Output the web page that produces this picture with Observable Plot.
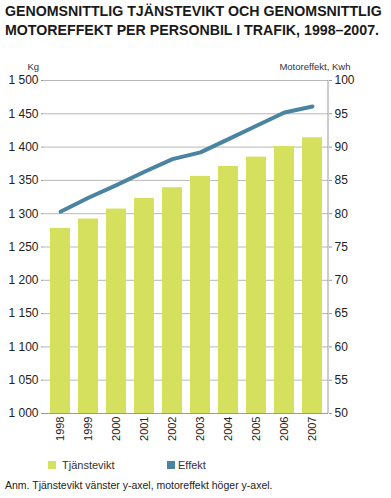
<!DOCTYPE html>
<html><head><meta charset="utf-8">
<script src="https://cdn.jsdelivr.net/npm/d3@7"></script>
<script src="https://cdn.jsdelivr.net/npm/@observablehq/plot@0.6"></script>
<style>
body{margin:0;background:#fff;font-family:"Liberation Sans",Arial,sans-serif;width:391px;height:498px;overflow:hidden}
#title{font-weight:bold;font-size:14.2px;line-height:19px;color:#1a1a1a;padding:2px 0 0 5px;height:46px;box-sizing:border-box;white-space:nowrap}
#legend{position:absolute;top:459px;left:0;font-size:11px;color:#333}
.item{position:absolute;white-space:nowrap;line-height:12px}
.sw{position:absolute;width:8px;height:8px;top:2px}
#note{position:absolute;top:479px;left:5px;font-size:10.5px;color:#222;white-space:nowrap}
#chart{position:absolute;top:48px;left:0}
</style></head>
<body>
<div id="title">GENOMSNITTLIG TJÄNSTEVIKT OCH GENOMSNITTLIG<br>MOTOREFFEKT PER PERSONBIL I TRAFIK, 1998–2007.</div>
<div id="chart"></div>
<div id="legend"></div>
<div id="note">Anm. Tjänstevikt vänster y-axel, motoreffekt höger y-axel.</div>
<script>
const years = ["1998","1999","2000","2001","2002","2003","2004","2005","2006","2007"];
const tjanstevikt = [1278, 1292, 1307, 1323, 1339, 1356, 1371, 1385, 1401, 1414];
const effekt = [80.3, 82.4, 84.3, 86.3, 88.2, 89.2, 91.2, 93.2, 95.2, 96.1];
const kgTicks = [1000,1050,1100,1150,1200,1250,1300,1350,1400,1450,1500];
const effTicks = [50,55,60,65,70,75,80,85,90,95,100];
const seriesNames = ["Tjänstevikt","Effekt"];
const colors = ["#d5e05e","#4a84a0"];

// map right-axis (kWh) values onto left-axis (kg) scale
const effToKg = e => 1000 + (e - 50) * 10;
const kgToEff = k => 50 + (k - 1000) / 10;
const fmtKg = d => d >= 1000 ? `${Math.floor(d/1000)} ${String(d%1000).padStart(3,"0")}` : String(d);

const data = years.map((y,i) => ({year:y, kg:tjanstevikt[i], eff:effekt[i]}));

const plot = Plot.plot({
  width: 391, height: 403,
  marginLeft: 43, marginRight: 63, marginTop: 32, marginBottom: 38,
  style: {fontFamily: "'Liberation Sans', Arial, sans-serif", fontSize: "12px", color: "#222", background: "transparent"},
  x: {domain: years, paddingInner: 0.3, paddingOuter: 0.15},
  y: {domain: [1000, 1500]},
  marks: [
    Plot.gridY(kgTicks, {stroke: "#b8b8b8", strokeOpacity: 1}),
    Plot.barY(data, {x: "year", y1: 1000, y2: "kg", fill: colors[0]}),
    Plot.lineY(data, {x: "year", y: d => effToKg(d.eff), stroke: colors[1], strokeWidth: 4, strokeLinecap: "round", strokeLinejoin: "round"}),
    Plot.ruleX([0], {frameAnchor: "left", stroke: "#999"}),
    Plot.ruleY([1000], {stroke: "#999"}),
    Plot.axisY({anchor: "left", ticks: kgTicks, tickFormat: fmtKg, tickSize: 2, tickPadding: 3, stroke: "#999", label: null, fontSize: 12}),
    Plot.axisY({anchor: "right", ticks: kgTicks, tickFormat: d => String(kgToEff(d)), tickSize: 3, tickPadding: 3, stroke: "#999", label: null, fontSize: 12}),
    Plot.axisX({tickRotate: -90, tickSize: 0, tickPadding: 3, label: null, fontSize: 11}),
    Plot.text(["Kg"], {frameAnchor: "top-left", dx: -16, dy: -17, fontSize: 9.5, fill: "#333"}),
    Plot.text(["Motoreffekt, Kwh"], {frameAnchor: "top-right", textAnchor: "end", dx: 22, dy: -17, fontSize: 9.5, fill: "#333"})
  ]
});
document.getElementById("chart").appendChild(plot);
// right axis line
const svg = d3.select(plot);
const xr = 391 - 63;
svg.append("line").attr("x1", xr).attr("x2", xr).attr("y1", 32).attr("y2", 403-38).attr("stroke", "#999");

const leg = document.getElementById("legend");
const lx = [48, 167];
seriesNames.forEach((n,i) => {
  const it = document.createElement("div");
  it.className = "item"; it.style.left = lx[i] + "px";
  it.innerHTML = `<span class="sw" style="background:${colors[i]};left:0"></span><span style="margin-left:${i===0?14:11}px">${n}</span>`;
  leg.appendChild(it);
});
</script>
</body></html>
